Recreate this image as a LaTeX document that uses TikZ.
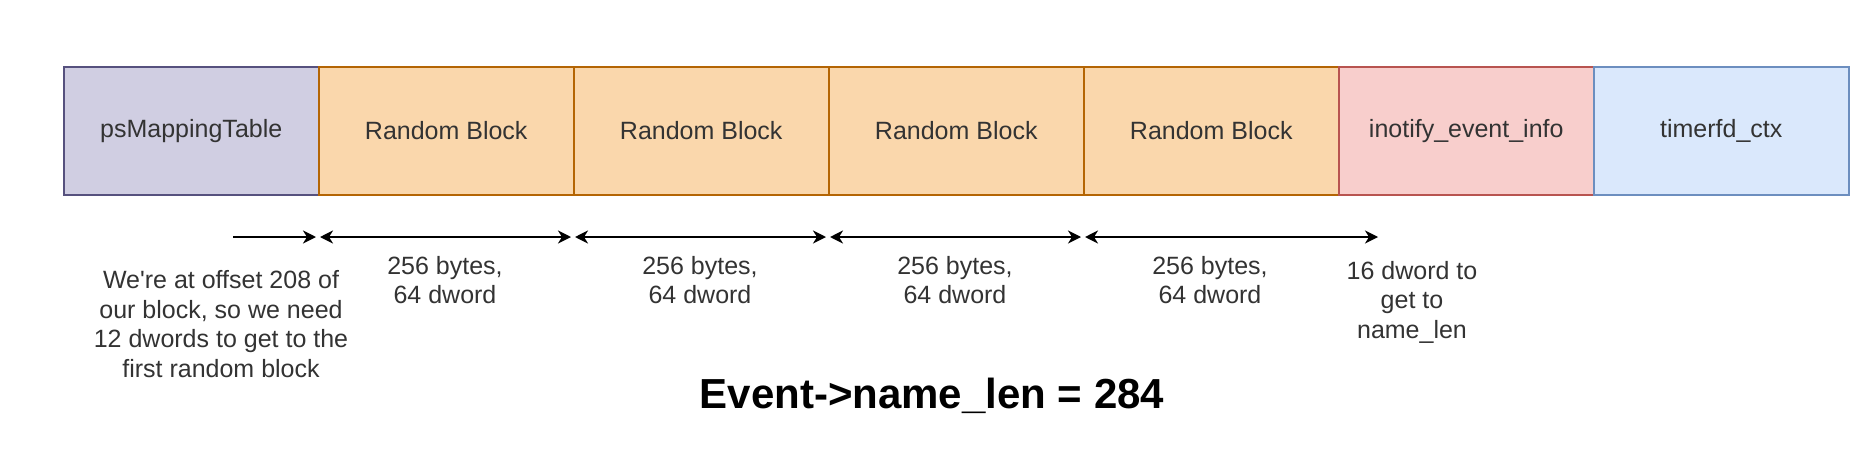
\documentclass[tikz,border=0pt]{standalone}
\usepackage{fontspec}
\setmainfont{Liberation Sans}[Ligatures=TeXOff]
\usetikzlibrary{arrows.meta}
\definecolor{pfill}{HTML}{D0CEE2}\definecolor{pdraw}{HTML}{56517E}
\definecolor{ofill}{HTML}{FAD7AC}\definecolor{odraw}{HTML}{B46504}
\definecolor{rfill}{HTML}{F8CECC}\definecolor{rdraw}{HTML}{B85450}
\definecolor{bfill}{HTML}{DAE8FC}\definecolor{bdraw}{HTML}{6C8EBF}
\definecolor{txt}{HTML}{333333}
\tikzset{
  blk/.style={rectangle, inner sep=0pt, minimum width=255pt, minimum height=128pt, line width=1.5pt, text=txt,
    font=\fontsize{25}{29.5}\selectfont, anchor=west},
  lbl/.style={align=center, text=txt, inner sep=0pt, font=\fontsize{25}{29.5}\selectfont},
  dim/.style={line width=2pt, draw=black, {Stealth[length=13pt,width=13pt,inset=4pt]}-{Stealth[length=13pt,width=13pt,inset=4pt]}},
  dimr/.style={line width=2pt, draw=black, -{Stealth[length=13pt,width=13pt,inset=4pt]}}
}
\begin{document}
\begin{tikzpicture}[x=1pt,y=-1pt]
\useasboundingbox[fill=white] (0,0) rectangle (1876,458);
\node[blk, fill=pfill, draw=pdraw] (ps) at (63,131) {psMappingTable};
\node[blk, fill=ofill, draw=odraw] (r1) at (318,131) {Random Block};
\node[blk, fill=ofill, draw=odraw] (r2) at (573,131) {Random Block};
\node[blk, fill=ofill, draw=odraw] (r3) at (828,131) {Random Block};
\node[blk, fill=ofill, draw=odraw] (r4) at (1083,131) {Random Block};
\node[blk, fill=rfill, draw=rdraw] (ino) at (1338,131) {inotify\_event\_info};
\node[blk, fill=bfill, draw=bdraw] (tim) at (1593,131) {timerfd\_ctx};

\coordinate (a0) at (233,237);
\coordinate (a1) at (316,237);
\coordinate (b1) at (320,237);
\coordinate (a2) at (571,237);
\coordinate (b2) at (575,237);
\coordinate (a3) at (826,237);
\coordinate (b3) at (830,237);
\coordinate (a4) at (1081,237);
\coordinate (b4) at (1085,237);
\coordinate (a5) at (1378,237);

\draw[dimr] (a0) -- (a1);
\draw[dim] (b1) -- (a2);
\draw[dim] (b2) -- (a3);
\draw[dim] (b3) -- (a4);
\draw[dim] (b4) -- (a5);

\node[lbl] (t0) at (221,324) {We're at offset 208 of\\our block, so we need\\12 dwords to get to the\\first random block};
\node[lbl] (t1) at (445,280) {256 bytes,\\64 dword};
\node[lbl] (t2) at (700,280) {256 bytes,\\64 dword};
\node[lbl] (t3) at (955,280) {256 bytes,\\64 dword};
\node[lbl] (t4) at (1210,280) {256 bytes,\\64 dword};
\node[lbl] (t5) at (1412,302) {16 dword to\\get to\\name\_len};
\node[inner sep=0pt, font=\fontsize{42}{48}\selectfont\bfseries] (title) at (932,396) {Event->name\_len = 284};
\end{tikzpicture}
\end{document}
